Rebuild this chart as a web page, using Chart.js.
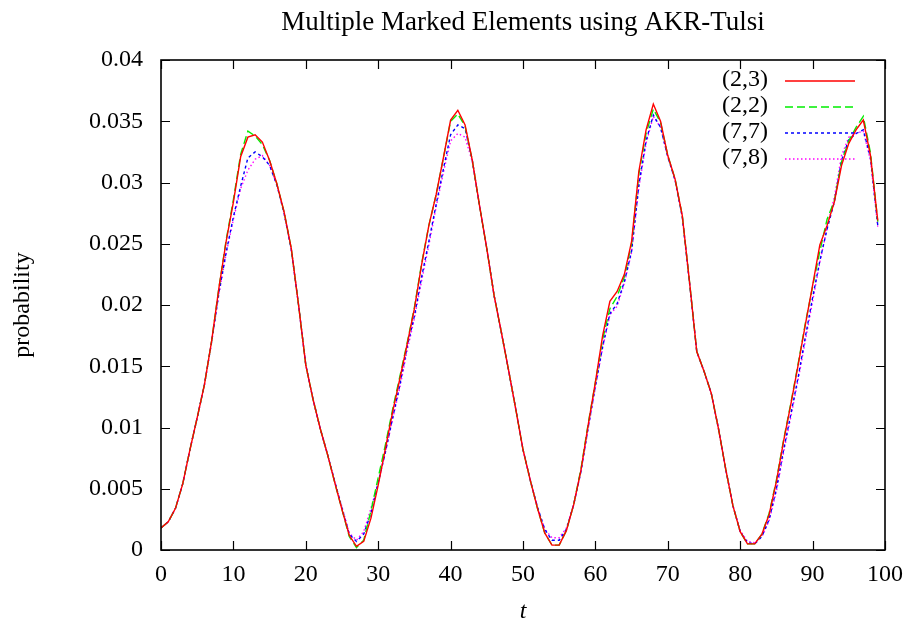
<!DOCTYPE html>
<html>
<head>
<meta charset="utf-8">
<title>Multiple Marked Elements using AKR-Tulsi</title>
<script src="https://cdn.jsdelivr.net/npm/chart.js@4.4.1/dist/chart.umd.min.js"></script>
<style>
  html, body { margin: 0; padding: 0; background: #fff; }
  #wrap { width: 914px; height: 628px; }
</style>
</head>
<body>
<div id="wrap"><canvas id="prob-chart" width="914" height="628"></canvas></div>
<script>
    "use strict";

    // Data, one value per step t = 0..99
    const seriesLabels = ['(2,3)', '(2,2)', '(7,7)', '(7,8)'];

    const p23 = [
        0.0018, 0.0023, 0.0034, 0.0054, 0.0082, 0.0108, 0.0135, 0.0171, 0.0214, 0.0252,
        0.0284, 0.0321, 0.0337, 0.0339, 0.0333, 0.0318, 0.0299, 0.0276, 0.0246, 0.0200,
        0.0151, 0.0123, 0.0099, 0.0078, 0.0055, 0.0033, 0.0012, 0.0003, 0.0007, 0.0026,
        0.0053, 0.0083, 0.0113, 0.0140, 0.0168, 0.0197, 0.0233, 0.0265, 0.0290, 0.0320,
        0.0351, 0.0359, 0.0347, 0.0318, 0.0281, 0.0246, 0.0208, 0.0178, 0.0147, 0.0115,
        0.0082, 0.0057, 0.0034, 0.0014, 0.0004, 0.0004, 0.0016, 0.0037, 0.0065, 0.0102,
        0.0137, 0.0175, 0.0203, 0.0211, 0.0225, 0.0252, 0.0309, 0.0343, 0.0364, 0.0350,
        0.0322, 0.0303, 0.0273, 0.0219, 0.0162, 0.0146, 0.0128, 0.0099, 0.0066, 0.0036,
        0.0015, 0.0005, 0.0005, 0.0013, 0.0029, 0.0056, 0.0089, 0.0119, 0.0151, 0.0184,
        0.0216, 0.0249, 0.0265, 0.0284, 0.0314, 0.0332, 0.0343, 0.0351, 0.0322, 0.0269
    ];

    const p22 = [
        0.0018, 0.0023, 0.0034, 0.0054, 0.0082, 0.0108, 0.0135, 0.0171, 0.0214, 0.0253,
        0.0286, 0.0323, 0.0342, 0.0338, 0.0331, 0.0318, 0.0299, 0.0276, 0.0246, 0.0200,
        0.0151, 0.0123, 0.0099, 0.0078, 0.0055, 0.0033, 0.0011, 0.0002, 0.0008, 0.0032,
        0.0059, 0.0086, 0.0115, 0.0142, 0.0169, 0.0198, 0.0234, 0.0265, 0.0290, 0.0320,
        0.0350, 0.0356, 0.0346, 0.0318, 0.0281, 0.0246, 0.0208, 0.0178, 0.0147, 0.0115,
        0.0082, 0.0057, 0.0034, 0.0014, 0.0004, 0.0004, 0.0016, 0.0037, 0.0066, 0.0103,
        0.0137, 0.0172, 0.0197, 0.0207, 0.0223, 0.0250, 0.0307, 0.0340, 0.0360, 0.0349,
        0.0322, 0.0303, 0.0273, 0.0219, 0.0162, 0.0146, 0.0128, 0.0099, 0.0066, 0.0036,
        0.0015, 0.0005, 0.0005, 0.0013, 0.0030, 0.0057, 0.0090, 0.0120, 0.0152, 0.0185,
        0.0215, 0.0244, 0.0270, 0.0285, 0.0317, 0.0334, 0.0345, 0.0354, 0.0324, 0.0268
    ];

    const p77 = [
        0.0018, 0.0023, 0.0034, 0.0054, 0.0082, 0.0108, 0.0135, 0.0170, 0.0210, 0.0243,
        0.0272, 0.0297, 0.0320, 0.0325, 0.0321, 0.0314, 0.0298, 0.0275, 0.0245, 0.0200,
        0.0151, 0.0123, 0.0099, 0.0078, 0.0056, 0.0034, 0.0013, 0.0007, 0.0013, 0.0030,
        0.0055, 0.0080, 0.0108, 0.0135, 0.0166, 0.0191, 0.0223, 0.0252, 0.0282, 0.0311,
        0.0339, 0.0347, 0.0344, 0.0318, 0.0281, 0.0246, 0.0208, 0.0178, 0.0147, 0.0115,
        0.0082, 0.0057, 0.0035, 0.0017, 0.0008, 0.0008, 0.0017, 0.0037, 0.0064, 0.0100,
        0.0134, 0.0166, 0.0193, 0.0201, 0.0219, 0.0244, 0.0298, 0.0334, 0.0355, 0.0345,
        0.0321, 0.0302, 0.0272, 0.0218, 0.0162, 0.0146, 0.0128, 0.0099, 0.0066, 0.0036,
        0.0015, 0.0006, 0.0005, 0.0011, 0.0025, 0.0050, 0.0082, 0.0111, 0.0141, 0.0174,
        0.0206, 0.0236, 0.0262, 0.0284, 0.0318, 0.0335, 0.0340, 0.0343, 0.0320, 0.0265
    ];

    const p78 = [
        0.0018, 0.0023, 0.0034, 0.0054, 0.0082, 0.0108, 0.0135, 0.0170, 0.0209, 0.0242,
        0.0270, 0.0295, 0.0310, 0.0319, 0.0322, 0.0314, 0.0298, 0.0275, 0.0245, 0.0200,
        0.0151, 0.0123, 0.0099, 0.0078, 0.0056, 0.0035, 0.0014, 0.0008, 0.0015, 0.0034,
        0.0055, 0.0080, 0.0107, 0.0133, 0.0163, 0.0189, 0.0220, 0.0249, 0.0280, 0.0308,
        0.0334, 0.0340, 0.0337, 0.0317, 0.0281, 0.0246, 0.0208, 0.0178, 0.0147, 0.0115,
        0.0082, 0.0057, 0.0035, 0.0017, 0.0010, 0.0010, 0.0018, 0.0037, 0.0064, 0.0099,
        0.0133, 0.0165, 0.0192, 0.0199, 0.0218, 0.0243, 0.0296, 0.0332, 0.0354, 0.0345,
        0.0321, 0.0302, 0.0272, 0.0218, 0.0162, 0.0146, 0.0128, 0.0099, 0.0066, 0.0036,
        0.0016, 0.0007, 0.0006, 0.0011, 0.0024, 0.0048, 0.0080, 0.0109, 0.0139, 0.0171,
        0.0203, 0.0235, 0.0263, 0.0288, 0.0322, 0.0337, 0.0340, 0.0342, 0.0318, 0.0264
    ];

    const xTicks = [0, 10, 20, 30, 40, 50, 60, 70, 80, 90, 100];
    const yTicks = [0, 0.005, 0.01, 0.015, 0.02, 0.025, 0.03, 0.035, 0.04];

    const titleText = 'Multiple Marked Elements using AKR-Tulsi';
    const xTitle = 't';
    const yTitle = 'probability';

    const FONT = '"Liberation Serif", "Times New Roman", serif';

    function pts(values) {
        return values.map(function (v, i) { return { x: i, y: v }; });
    }

    // gnuplot style frame: border, inward ticks on all four sides, title, legend
    const framePlugin = {
        id: 'frame',
        afterDraw: function (chart) {
            const ctx = chart.ctx;
            const a = chart.chartArea;
            const xs = chart.scales.x;
            const ys = chart.scales.y;
            const tl = 9;
            ctx.save();
            ctx.strokeStyle = '#000';
            ctx.lineWidth = 1.2;
            ctx.beginPath();
            xTicks.forEach(function (v) {
                const px = Math.round(xs.getPixelForValue(v)) + 0.5;
                ctx.moveTo(px, a.bottom); ctx.lineTo(px, a.bottom - tl);
                ctx.moveTo(px, a.top); ctx.lineTo(px, a.top + tl);
            });
            yTicks.forEach(function (v) {
                const py = Math.round(ys.getPixelForValue(v)) + 0.5;
                ctx.moveTo(a.left, py); ctx.lineTo(a.left + tl, py);
                ctx.moveTo(a.right, py); ctx.lineTo(a.right - tl, py);
            });
            ctx.stroke();
            ctx.lineWidth = 1.6;
            ctx.strokeRect(a.left, a.top, a.right - a.left, a.bottom - a.top);

            // title
            ctx.fillStyle = '#000';
            ctx.font = '27px ' + FONT;
            ctx.textAlign = 'center';
            ctx.textBaseline = 'middle';
            ctx.fillText(titleText, (a.left + a.right) / 2, 23);

            // legend
            ctx.font = '24px ' + FONT;
            ctx.textAlign = 'right';
            chart.data.datasets.forEach(function (ds, i) {
                const y = a.top + 20 + i * 26;
                ctx.fillStyle = '#000';
                ctx.fillText(ds.label, a.right - 117, y);
                ctx.strokeStyle = ds.borderColor;
                ctx.lineWidth = ds.borderWidth;
                ctx.setLineDash(ds.borderDash || []);
                ctx.beginPath();
                ctx.moveTo(a.right - 100, y + 1);
                ctx.lineTo(a.right - 30, y + 1);
                ctx.stroke();
                ctx.setLineDash([]);
            });
            ctx.restore();
        }
    };

    const ctx = document.getElementById('prob-chart').getContext('2d');
    new Chart(ctx, {
        type: 'line',
        data: {
            datasets: [{
                label: seriesLabels[0],
                data: pts(p23),
                borderColor: '#ff0000',
                borderWidth: 1.4,
                borderDash: [],
            }, {
                label: seriesLabels[1],
                data: pts(p22),
                borderColor: '#00ee00',
                borderWidth: 1.4,
                borderDash: [8, 4],
            }, {
                label: seriesLabels[2],
                data: pts(p77),
                borderColor: '#0000ff',
                borderWidth: 1.4,
                borderDash: [3, 3],
            }, {
                label: seriesLabels[3],
                data: pts(p78),
                borderColor: '#ff00ff',
                borderWidth: 1.4,
                borderDash: [1.5, 2.5],
            }]
        },
        options: {
            responsive: false,
            animation: false,
            devicePixelRatio: 1,
            layout: { padding: { left: 0, right: 29, top: 60, bottom: 0 } },
            elements: {
                point: { radius: 0 },
                line: { tension: 0, fill: false }
            },
            plugins: {
                legend: { display: false },
                title: { display: false },
                tooltip: { enabled: false },
            },
            scales: {
                x: {
                    type: 'linear',
                    min: 0,
                    max: 100,
                    afterFit: function (s) { s.height = 78; },
                    grid: { display: false, drawTicks: false },
                    border: { display: false },
                    ticks: {
                        stepSize: 10,
                        padding: 10,
                        color: '#000',
                        font: { family: FONT, size: 24, lineHeight: 1.2 },
                        maxRotation: 0,
                    },
                    title: {
                        display: true,
                        text: xTitle,
                        color: '#000',
                        font: { family: FONT, size: 24, style: 'italic', lineHeight: 1.2 },
                        padding: { top: 0, bottom: 2 },
                    },
                },
                y: {
                    type: 'linear',
                    min: 0,
                    max: 0.04,
                    afterFit: function (s) { s.width = 161; },
                    grid: { display: false, drawTicks: false },
                    border: { display: false },
                    ticks: {
                        stepSize: 0.005,
                        padding: 18,
                        color: '#000',
                        font: { family: FONT, size: 24, lineHeight: 1.2 },
                        callback: function (v) {
                            return v === 0 ? '0' : String(parseFloat(v.toFixed(3)));
                        },
                    },
                    title: {
                        display: true,
                        text: yTitle,
                        color: '#000',
                        font: { family: FONT, size: 24, lineHeight: 1.2 },
                        padding: { top: 8, bottom: 0 },
                    },
                },
            },
        },
        plugins: [framePlugin],
    });
</script>
</body>
</html>
